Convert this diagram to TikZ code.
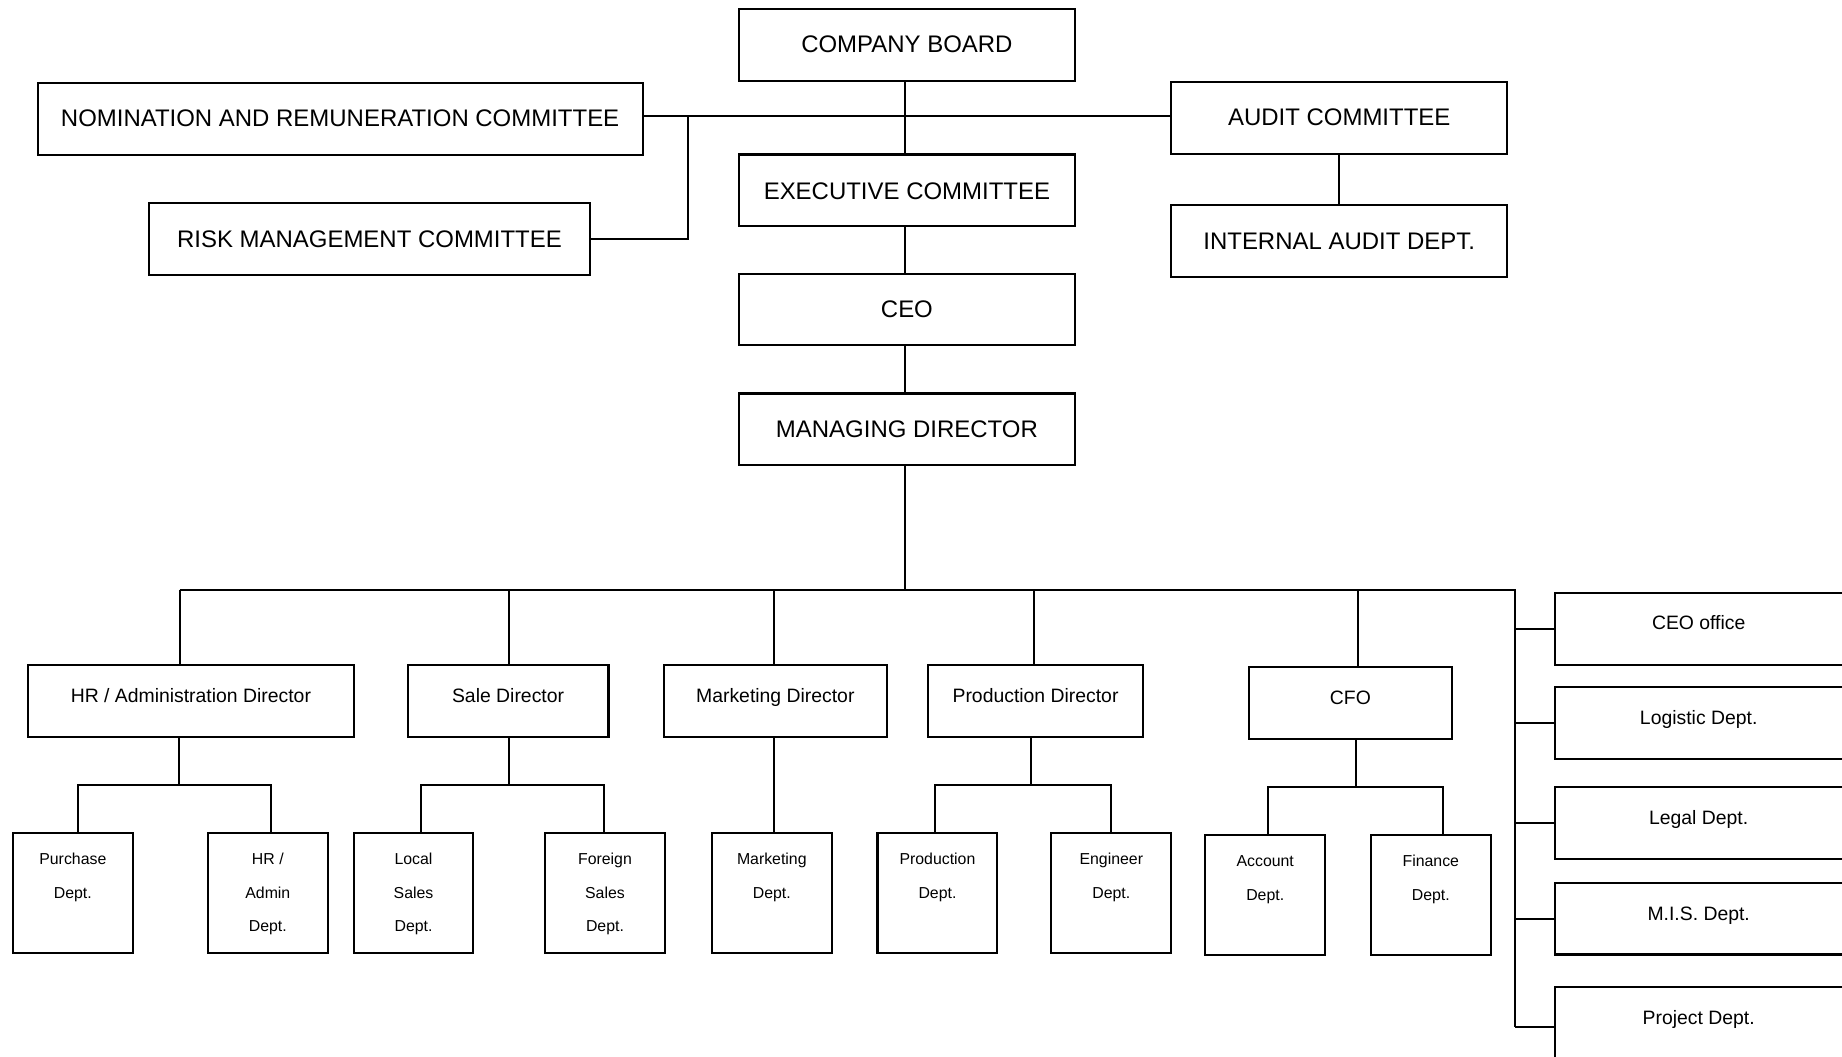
\documentclass[tikz,border=0pt]{standalone}
\usepackage{fontspec}
\setmainfont{Liberation Sans}
\newcommand\szA{\fontsize{20.4}{24}\selectfont}
\newcommand\szB{\fontsize{16.5}{20}\selectfont}
\newcommand\szC{\fontsize{13.5}{28.5}\selectfont}
% #1 name, #2 cx, #3 cy, #4 width, #5 height, #6 first baseline below top, #7 font, #8 text
\newcommand\orgbox[8]{%
  \node[ob] (#1) at (#2,#3) {\parbox[c][#5pt][t]{#4pt}{\centering#7\rule{0pt}{#6pt}#8}};}
\begin{document}
\begin{tikzpicture}[x=1pt,y=-1pt,
  ob/.style={draw, line width=1.8pt, inner sep=0pt, outer sep=0pt},
  ln/.style={line width=1.75pt}]
\useasboundingbox (0,0) rectangle (1568,899);
\clip (0,0) rectangle (1568,899);

% top level
\orgbox{board}{772}{38.5}{286}{61}{37}{\szA}{COMPANY BOARD}
\orgbox{nom}{289.5}{101.5}{515}{61}{37}{\szA}{NOMINATION AND REMUNERATION COMMITTEE}
\orgbox{risk}{314.5}{203.5}{375}{61}{38}{\szA}{RISK MANAGEMENT COMMITTEE}
\orgbox{audit}{1140}{100.5}{286}{61}{37}{\szA}{AUDIT COMMITTEE}
\orgbox{intaud}{1140}{205}{286}{61}{38}{\szA}{INTERNAL AUDIT DEPT.}
\orgbox{exec}{772}{162}{286}{61}{38}{\szA}{EXECUTIVE COMMITTEE}
\orgbox{ceo}{772}{263.5}{286}{61}{37}{\szA}{CEO}
\orgbox{md}{772}{365.5}{286}{61}{37}{\szA}{MANAGING DIRECTOR}

% directors
\orgbox{hrd}{162.5}{596.5}{277}{61}{32}{\szB}{HR / Administration Director}
\orgbox{saled}{432.5}{596.5}{171}{61}{32}{\szB}{Sale Director}
\orgbox{mktd}{660}{596.5}{190}{61}{32}{\szB}{Marketing Director}
\orgbox{prodd}{881.5}{596.5}{183}{61}{32}{\szB}{Production Director}
\orgbox{cfo}{1149.5}{598.5}{173}{61}{32}{\szB}{CFO}

% departments
\orgbox{purch}{62}{760}{102}{102}{27}{\szC}{Purchase\\Dept.}
\orgbox{hradm}{228}{760}{102}{102}{27}{\szC}{HR /\\Admin\\Dept.}
\orgbox{local}{352}{760}{102}{102}{27}{\szC}{Local\\Sales\\Dept.}
\orgbox{foreign}{515}{760}{102}{102}{27}{\szC}{Foreign\\Sales\\Dept.}
\orgbox{mktdept}{657}{760}{102}{102}{27}{\szC}{Marketing\\Dept.}
\orgbox{proddept}{798}{760}{102}{102}{27}{\szC}{Production\\Dept.}
\orgbox{engdept}{946}{760}{102}{102}{27}{\szC}{Engineer\\Dept.}
\orgbox{acct}{1077}{762}{102}{102}{27}{\szC}{Account\\Dept.}
\orgbox{fin}{1218}{762}{102}{102}{27}{\szC}{Finance\\Dept.}

% right column
\orgbox{ceooff}{1452}{535.5}{256}{61}{31}{\szB}{\hspace*{-12pt}CEO office}
\orgbox{logi}{1452}{615.5}{256}{61}{32}{\szB}{\hspace*{-12pt}Logistic Dept.}
\orgbox{legal}{1452}{700.5}{256}{61}{32}{\szB}{\hspace*{-12pt}Legal Dept.}
\orgbox{mis}{1452}{782}{256}{61}{32}{\szB}{\hspace*{-12pt}M.I.S. Dept.}
\orgbox{proj}{1452}{870.5}{256}{61}{32}{\szB}{\hspace*{-12pt}Project Dept.}

% top connectors (spine at x=770)
\coordinate (hj) at (770,99);
\draw[ln] (hj |- board.south) -- (hj |- exec.north);
\draw[ln] (nom.east |- hj) -- (audit.west |- hj);
\coordinate (rj) at (586,99);
\draw[ln] (rj) |- (risk.east);
\draw[ln] (audit.south) -- (intaud.north);
\draw[ln] (hj |- exec.south) -- (hj |- ceo.north);
\draw[ln] (hj |- ceo.south) -- (hj |- md.north);

% main bus
\coordinate (busL) at (153,502);
\coordinate (busR) at (1290,502);
\coordinate (busE) at (1290,874);
\draw[ln] (hj |- md.south) -- (hj |- busL);
\draw[ln] (busL) -- (busR) -- (busE);

% drops to directors
\coordinate (dh) at (153,502);
\coordinate (ds) at (433,502);
\coordinate (dm) at (659,502);
\coordinate (dp) at (880,502);
\coordinate (dc) at (1156,502);
\draw[ln] (dh) -- (dh |- hrd.north);
\draw[ln] (ds) -- (ds |- saled.north);
\draw[ln] (dm) -- (dm |- mktd.north);
\draw[ln] (dp) -- (dp |- prodd.north);
\draw[ln] (dc) -- (dc |- cfo.north);

% HR branch
\coordinate (hrJ) at (152,668);
\coordinate (hrA) at (66,668);
\coordinate (hrB) at (231,668);
\draw[ln] (hrJ |- hrd.south) -- (hrJ);
\draw[ln] (hrA |- purch.north) -- (hrA) -- (hrB) -- (hrB |- hradm.north);

% Sale branch
\coordinate (sJ) at (433,668);
\coordinate (sA) at (358,668);
\coordinate (sB) at (514,668);
\draw[ln] (sJ |- saled.south) -- (sJ);
\draw[ln] (sA |- local.north) -- (sA) -- (sB) -- (sB |- foreign.north);

% Marketing branch
\coordinate (mJ) at (659,627);
\draw[ln] (mJ |- mktd.south) -- (mJ |- mktdept.north);

% Production branch
\coordinate (pJ) at (878,668);
\coordinate (pA) at (796,668);
\coordinate (pB) at (946,668);
\draw[ln] (pJ |- prodd.south) -- (pJ);
\draw[ln] (pA |- proddept.north) -- (pA) -- (pB) -- (pB |- engdept.north);

% CFO branch
\coordinate (cJ) at (1154,670);
\coordinate (cA) at (1079,670);
\coordinate (cB) at (1228,670);
\draw[ln] (cJ |- cfo.south) -- (cJ);
\draw[ln] (cA |- acct.north) -- (cA) -- (cB) -- (cB |- fin.north);

% right stubs
\draw[ln] (ceooff.west) -- (ceooff.west -| busR);
\draw[ln] (logi.west) -- (logi.west -| busR);
\draw[ln] (legal.west) -- (legal.west -| busR);
\draw[ln] (mis.west) -- (mis.west -| busR);
\draw[ln] ([yshift=-3.5pt]proj.west) -- ([yshift=-3.5pt]proj.west -| busR);
\end{tikzpicture}
\end{document}
